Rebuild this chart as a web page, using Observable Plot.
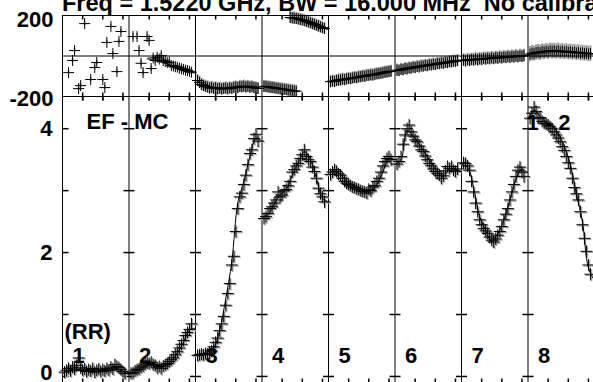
<!DOCTYPE html>
<html><head><meta charset="utf-8">
<script src="https://cdn.jsdelivr.net/npm/d3@7"></script>
<script src="https://cdn.jsdelivr.net/npm/@observablehq/plot@0.6"></script>
<style>
html,body{margin:0;padding:0;background:#fff;}
#wrap{position:relative;width:593px;height:382px;overflow:hidden;background:#fff;font-family:"Liberation Sans",Arial,Helvetica,sans-serif;}
#title{position:absolute;left:62px;top:-8px;font-size:23.5px;font-weight:bold;line-height:22px;white-space:pre;color:#000;z-index:3;}
#phase,#amp{position:absolute;left:0;}
#phase{top:0;z-index:2;}
#amp{top:96px;z-index:1;}
svg{overflow:visible !important;background:transparent !important;max-width:none !important;}
</style></head><body>
<div id="wrap"><div id="title">Freq = 1.5220 GHz, BW = 16.000 MHz  No calibration</div><div id="amp"></div><div id="phase"></div></div>
<script>
// ---------- data ----------
const ifLabels = ["1","2","3","4","5","6","7","8"];
const channelsPerIF = 33;
const channels = [1,2,3,4,5,6,7,8,9,10,11,12,13,14,15,16,17,18,19,20,21,22,23,24,25,26,27,28,29,30,31];
const knotChannels = [0,3,6,9,12,15,18,21,24,27,30,33];
const xTickChannels = [10,20,30];
const ampTicks = [0,1,2,3,4];
const ampTickLabels = [2,4];
const ampZeroLabel = [0];
const phaseTickLabels = [200,-200];
const baselineLabel = "EF - MC";
const antennaLabel = "1 - 2";
const stokesLabel = "(RR)";

// amplitude (Jy) per channel
const ampIF1 = [0.07,0.10,0.13,0.09,0.15,0.12,0.18,0.30,0.14,0.10,0.12,0.08,0.11,0.09,0.13,0.07,0.10,0.12,0.08,0.11,0.09,0.13,0.10,0.15,0.12,0.19,0.16,0.14,0.11,0.08,0.05];
const ampIF2 = [0.05,0.06,0.09,0.11,0.12,0.15,0.17,0.20,0.22,0.21,0.23,0.19,0.18,0.14,0.16,0.13,0.17,0.19,0.21,0.24,0.27,0.30,0.35,0.40,0.46,0.52,0.58,0.66,0.71,0.76,0.85];
const ampIF3 = [0.34,0.35,0.36,0.35,0.37,0.36,0.38,0.41,0.48,0.55,0.62,0.74,0.85,0.97,1.15,1.34,1.50,1.80,1.94,2.34,2.71,2.90,2.96,3.10,3.25,3.42,3.60,3.66,3.84,3.91,3.80];
const ampIF4 = [2.55,2.58,2.63,2.71,2.74,2.80,2.85,2.98,2.90,2.93,3.00,3.02,3.08,3.15,3.30,3.34,3.40,3.44,3.52,3.58,3.66,3.55,3.50,3.47,3.38,3.31,3.20,3.04,2.95,2.90,2.82];
const ampIF5 = [3.26,3.30,3.34,3.31,3.27,3.25,3.20,3.15,3.12,3.10,3.08,3.06,3.05,3.03,3.02,3.00,2.99,2.98,2.96,3.02,3.00,3.06,3.08,3.15,3.20,3.30,3.40,3.47,3.52,3.55,3.50];
const ampIF6 = [3.43,3.47,3.55,3.75,3.90,4.00,4.06,3.95,3.88,3.82,3.79,3.72,3.66,3.63,3.56,3.50,3.44,3.40,3.35,3.31,3.28,3.25,3.20,3.24,3.32,3.39,3.36,3.39,3.33,3.31,3.35];
const ampIF7 = [3.45,3.44,3.40,3.33,3.15,2.98,2.80,2.66,2.53,2.45,2.39,2.35,2.31,2.25,2.20,2.17,2.22,2.28,2.34,2.42,2.53,2.62,2.71,2.85,2.98,3.10,3.23,3.33,3.38,3.30,3.23];
const ampIF8 = [4.17,4.25,4.35,4.28,4.17,4.18,4.12,4.09,4.08,4.06,4.03,4.00,3.95,3.90,3.85,3.79,3.71,3.65,3.55,3.45,3.36,3.20,3.05,2.95,2.85,2.66,2.45,2.23,2.02,1.80,1.65];

// amplitude model at knot channels
const ampModelIF1 = [0.04,0.09,0.11,0.10,0.09,0.08,0.08,0.08,0.10,0.12,0.08,0.03];
const ampModelIF2 = [0.03,0.08,0.14,0.19,0.20,0.16,0.18,0.25,0.38,0.55,0.75,0.78];
const ampModelIF3 = [0.35,0.35,0.36,0.45,0.75,1.25,1.85,2.80,3.15,3.55,3.85,3.80];
const ampModelIF4 = [2.57,2.62,2.78,2.93,3.02,3.25,3.45,3.63,3.50,3.20,2.88,2.82];
const ampModelIF5 = [3.28,3.32,3.26,3.15,3.08,3.03,2.98,3.00,3.10,3.30,3.52,3.50];
const ampModelIF6 = [3.42,3.50,3.97,3.88,3.75,3.60,3.45,3.30,3.22,3.35,3.35,3.30];
const ampModelIF7 = [3.42,3.38,3.05,2.58,2.36,2.18,2.30,2.53,2.85,3.18,3.35,3.28];
const ampModelIF8 = [4.15,4.30,4.20,4.10,4.05,3.92,3.72,3.42,2.95,2.50,1.75,1.55];

// phase (degrees) per channel
const phaseIF1 = [null,null,-82,null,-22,27,null,-161,-146,null,160,null,null,-116,null,-57,-32,null,null,-116,-156,67,null,146,12,null,-77,72,121,null,null];
const phaseIF2 = [null,96,null,96,27,-36,-82,null,96,77,-62,-10,-22,-6,-15,2,-22,-28,-33,-31,-47,-50,-53,-55,-60,-63,-66,-70,-72,-76,-80];
const phaseIF3 = [-121,-130,-140,-146,-150,-153,-158,-155,-160,-157,-162,-159,-163,-160,-158,-162,-157,-160,-155,-153,-156,-150,-152,-149,-153,-150,-154,-152,-156,-158,-160];
const phaseIF4 = [-150,-151,-153,-154,-156,-157,-159,-160,-162,-163,-165,-166,-168,-169,-171,-172,-174,null,null,null,null,null,null,null,null,null,null,null,null,null,null];
const phaseIF4Wrapped = [null,null,null,null,null,null,null,null,null,null,null,null,null,190,188,187,185,183,180,178,175,171,168,164,160,156,152,148,144,140,136];
const phaseIF5 = [-127,-124,-126,-121,-119,-118,-115,-117,-113,-111,-112,-108,-106,-107,-103,-102,-99,-100,-96,-95,-93,-94,-90,-88,-87,-85,-83,-80,-79,-77,-75];
const phaseIF6 = [-70,-72,-66,-68,-62,-64,-59,-60,-55,-57,-52,-54,-49,-50,-46,-48,-43,-44,-40,-42,-37,-38,-34,-36,-31,-33,-28,-29,-25,-26,-22];
const phaseIF7 = [-20,-23,-19,-21,-17,-19,-15,-18,-14,-16,-12,-14,-11,-13,-9,-12,-8,-10,-6,-9,-5,-7,-3,-6,-2,-4,0,-3,1,-1,2];
const phaseIF8 = [9,14,12,17,19,16,22,20,24,21,26,23,25,22,26,21,24,20,23,19,21,17,20,15,18,14,16,12,14,10,12];
const phaseErrIF = [10,14,30,30,30,30,32,38];

// phase model at knot channels
const phaseModelIF1 = [null,null,null,null,null,null,null,null,null,null,null,null];
const phaseModelIF2 = [null,null,null,-14,-20,-28,-36,-46,-56,-66,-76,-86];
const phaseModelIF3 = [-118,-135,-150,-157,-160,-160,-158,-154,-151,-152,-157,-162];
const phaseModelIF4 = [-148,-153,-158,-162,-166,-170,-175,null,null,null,null,null];
const phaseModelIF4Wrapped = [null,null,null,null,null,190,185,175,164,152,140,129];
const phaseModelIF5 = [-129,-124,-118,-113,-108,-103,-98,-93,-88,-83,-78,-72];
const phaseModelIF6 = [-72,-67,-62,-57,-52,-47,-43,-39,-35,-30,-26,-22];
const phaseModelIF7 = [-22,-20,-18,-16,-13,-11,-9,-6,-4,-2,0,2];
const phaseModelIF8 = [10,16,20,23,24,24,22,20,18,15,12,10];

// ---------- build tables ----------
const ampSeries = [ampIF1,ampIF2,ampIF3,ampIF4,ampIF5,ampIF6,ampIF7,ampIF8];
const ampModels = [ampModelIF1,ampModelIF2,ampModelIF3,ampModelIF4,ampModelIF5,ampModelIF6,ampModelIF7,ampModelIF8];
const phaseSeries = [phaseIF1,phaseIF2,phaseIF3,phaseIF4,phaseIF5,phaseIF6,phaseIF7,phaseIF8];
const phaseModels = [phaseModelIF1,phaseModelIF2,phaseModelIF3,phaseModelIF4,phaseModelIF5,phaseModelIF6,phaseModelIF7,phaseModelIF8];

function pointRows(series, chans, extra) {
  const out = [];
  series.forEach((vals, i) => vals.forEach((v, j) => {
    if (v != null) out.push({x: i * channelsPerIF + chans[j], v, i});
  }));
  if (extra) extra.forEach(([i, vals]) => vals.forEach((v, j) => {
    if (v != null) out.push({x: i * channelsPerIF + chans[j], v, i});
  }));
  return out;
}
function modelRows(series, extra) {
  const out = [];
  series.forEach((vals, i) => vals.forEach((v, j) => out.push({x: i * channelsPerIF + knotChannels[j], v, s: "m" + i})));
  if (extra) extra.forEach(([i, vals]) => vals.forEach((v, j) => out.push({x: i * channelsPerIF + knotChannels[j], v, s: "w" + i})));
  return out;
}
const ampRows = pointRows(ampSeries, channels);
const ampLine = modelRows(ampModels);
const phaseRows = pointRows(phaseSeries, channels, [[3, phaseIF4Wrapped]]);
const phaseLine = modelRows(phaseModels, [[3, phaseModelIF4Wrapped]]);

const boundaries = d3.range(1, ifLabels.length).map(i => i * channelsPerIF);
const xTickRows = d3.range(ifLabels.length).flatMap(i => xTickChannels.map(t => i * channelsPerIF + t));
const yTickRows = boundaries.flatMap(b => ampTicks.map(v => ({x: b, v})));
const yTickLeft = ampTicks.map(v => ({x: 0, v}));

// ---------- symbols ----------
const rad = s => Math.sqrt(s / Math.PI);
const plusSym = {draw(c, s){const r = rad(s); c.moveTo(-r,0); c.lineTo(r,0); c.moveTo(0,-r); c.lineTo(0,r);}};
const hSym = {draw(c, s){const r = rad(s); c.moveTo(-r,0); c.lineTo(r,0);}};
const hRightSym = {draw(c, s){const r = rad(s); c.moveTo(0,0); c.lineTo(r,0);}};
const vSym = {draw(c, s){const r = rad(s); c.moveTo(0,-r); c.lineTo(0,r);}};

const font = {fontSize: 22, fontWeight: "bold"};
const common = {
  width: 594, marginLeft: 62, marginRight: 0,
  x: {domain: [0, ifLabels.length * channelsPerIF], axis: null},
  style: {fontFamily: "'Liberation Sans', Arial, Helvetica, sans-serif", background: "transparent", overflow: "visible"}
};

// ---------- phase panel ----------
const phasePlot = Plot.plot({
  ...common,
  height: 96, marginTop: 15, marginBottom: 0,
  y: {domain: [-200, 200], axis: null},
  marks: [
    Plot.ruleX(phaseRows, {x: "x", y1: d => d.v - phaseErrIF[d.i], y2: d => d.v + phaseErrIF[d.i], stroke: "#a0a0a0", strokeWidth: 2}),
    Plot.ruleY([0], {stroke: "black", strokeWidth: 1}),
    Plot.ruleX(boundaries, {stroke: "black", strokeWidth: 1}),
    Plot.frame({stroke: "black", strokeWidth: 1}),
    Plot.dot(xTickRows, {x: d => d, frameAnchor: "top", symbol: vSym, r: 2, dy: 2, stroke: "black", fill: "none"}),
    Plot.dot(xTickRows, {x: d => d, frameAnchor: "bottom", symbol: vSym, r: 4, stroke: "black", fill: "none"}),
    Plot.line(phaseLine, {x: "x", y: "v", z: "s", curve: "catmull-rom", stroke: "black", strokeWidth: 1}),
    Plot.dot(phaseRows, {x: "x", y: "v", symbol: plusSym, r: 5.5, stroke: "black", strokeWidth: 1, fill: "none"}),
    Plot.text([phaseTickLabels[0]], {frameAnchor: "left", y: d => d, text: d => String(d), dx: -9, dy: 4.5, textAnchor: "end", ...font}),
    Plot.text([phaseTickLabels[1]], {frameAnchor: "left", y: d => d, text: d => String(d), dx: -9, dy: 2.5, textAnchor: "end", ...font})
  ]
});
document.getElementById("phase").appendChild(phasePlot);

// ---------- amplitude panel ----------
const ampPlot = Plot.plot({
  ...common,
  height: 288, marginTop: 0, marginBottom: 0,
  y: {domain: [-0.13, 4.52], axis: null},
  marks: [
    Plot.ruleX(boundaries, {stroke: "black", strokeWidth: 1}),
    Plot.frame({stroke: "black", strokeWidth: 1}),
    Plot.dot(xTickRows, {x: d => d, frameAnchor: "top", symbol: vSym, r: 2, dy: 2, stroke: "black", fill: "none"}),
    Plot.dot(xTickRows, {x: d => d, frameAnchor: "bottom", symbol: vSym, r: 3, dy: -3, stroke: "black", fill: "none"}),
    Plot.dot(yTickRows, {x: "x", y: "v", symbol: hSym, r: 5.5, stroke: "black", fill: "none"}),
    Plot.dot(yTickLeft, {x: "x", y: "v", symbol: hRightSym, r: 6, stroke: "black", fill: "none"}),
    Plot.dot(ampRows, {x: "x", y: "v", symbol: plusSym, r: 6, stroke: "#a8a8a8", strokeWidth: 1.5, dx: 1, dy: 1, fill: "none"}),
    Plot.line(ampLine, {x: "x", y: "v", z: "s", curve: "catmull-rom", stroke: "black", strokeWidth: 1}),
    Plot.dot(ampRows, {x: "x", y: "v", symbol: plusSym, r: 6, stroke: "black", strokeWidth: 1, fill: "none"}),
    Plot.text(ampTickLabels, {frameAnchor: "left", y: d => d, text: d => String(d), dx: -10, textAnchor: "end", ...font}),
    Plot.text(ampZeroLabel, {frameAnchor: "left", y: d => d, text: d => String(d), dx: -10, dy: -3, textAnchor: "end", ...font}),
    Plot.text(ifLabels, {x: (d, i) => i * channelsPerIF, text: d => d, frameAnchor: "bottom", dx: 10, dy: -22, textAnchor: "start", lineAnchor: "bottom", ...font}),
    Plot.text([stokesLabel], {frameAnchor: "bottom-left", text: d => d, dx: 2, dy: -46, textAnchor: "start", lineAnchor: "bottom", ...font}),
    Plot.text([baselineLabel], {frameAnchor: "top-left", text: d => d, dx: 24, dy: 32, textAnchor: "start", lineAnchor: "bottom", ...font}),
    Plot.text([antennaLabel], {frameAnchor: "top-right", text: d => d, dx: -24, dy: 33, textAnchor: "end", lineAnchor: "bottom", ...font})
  ]
});
document.getElementById("amp").appendChild(ampPlot);
</script></body></html>
